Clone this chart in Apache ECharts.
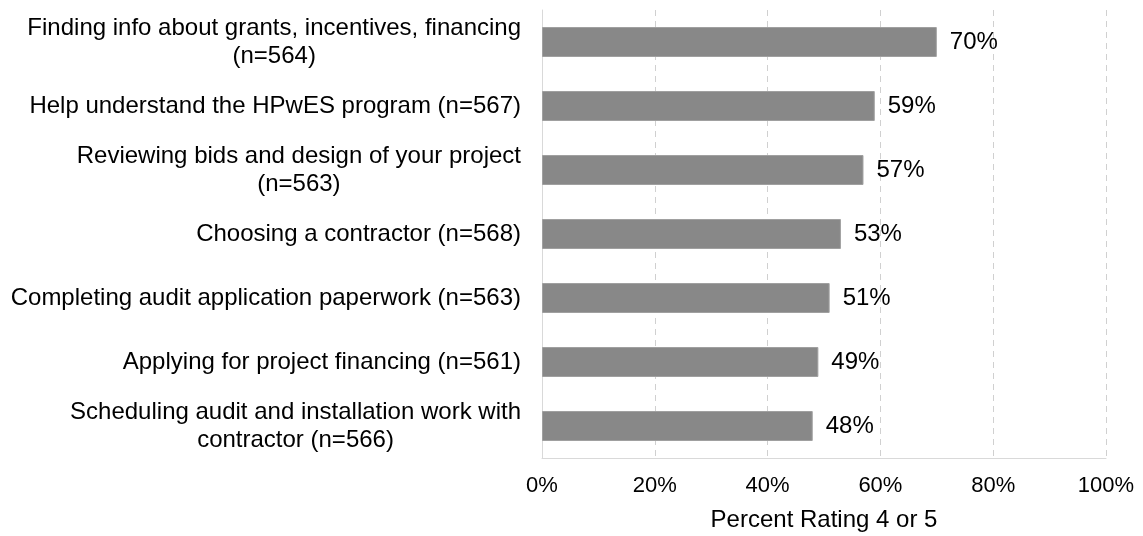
<!DOCTYPE html>
<html>
<head>
<meta charset="utf-8">
<script src="https://cdn.jsdelivr.net/npm/echarts@6/dist/echarts.min.js"></script>
<style>
  html, body { margin: 0; padding: 0; background: #fff; }
  #main { width: 1143px; height: 536px; }
</style>
</head>
<body>
<div id="main"></div>
<script>
// categories, top to bottom
var categories = [
  'Finding info about grants, incentives, financing\n(n=564)',
  'Help understand the HPwES program (n=567)',
  'Reviewing bids and design of your project\n(n=563)',
  'Choosing a contractor (n=568)',
  'Completing audit application paperwork (n=563)',
  'Applying for project financing (n=561)',
  'Scheduling audit and installation work with\ncontractor (n=566)'
];
var values = [70, 59, 57, 53, 51, 49, 48];
var xTicks = [0, 20, 40, 60, 80, 100];
var axisTitle = 'Percent Rating 4 or 5';

var font = 'Liberation Sans, Arial, sans-serif';

var option = {
  animation: false,
  grid: { left: 542, right: 37, top: 10, bottom: 78, outerBoundsMode: 'none', containLabel: false },
  xAxis: {
    type: 'value',
    min: 0,
    max: 100,
    interval: 20,
    name: axisTitle,
    nameLocation: 'middle',
    nameGap: 50,
    nameTextStyle: { fontFamily: font, fontSize: 24, color: '#000' },
    axisLine: { show: true, lineStyle: { color: '#d9d9d9', width: 1 } },
    axisTick: { show: false },
    axisLabel: {
      fontFamily: font, fontSize: 22, color: '#000', margin: 17,
      formatter: function (v) { return xTicks.indexOf(v) >= 0 ? v + '%' : ''; }
    },
    splitLine: { show: true, lineStyle: { color: '#d0d0d0', type: [6, 5], width: 1 } }
  },
  yAxis: {
    type: 'category',
    inverse: true,
    data: categories,
    axisLine: { show: true, lineStyle: { color: '#d9d9d9' } },
    axisTick: { show: false },
    axisLabel: {
      margin: 21,
      formatter: function (v) {
        return v.split('\n').map(function (s) { return '{c|' + s + '}'; }).join('\n');
      },
      rich: {
        c: { fontFamily: font, fontSize: 24, color: '#000', align: 'center', lineHeight: 28 }
      }
    }
  },
  series: [{
    type: 'bar',
    data: values,
    barWidth: 30,
    itemStyle: { color: '#888888', borderColor: '#a0a0a0', borderWidth: 1 },
    label: {
      show: true,
      position: 'right',
      distance: 13,
      fontFamily: font,
      fontSize: 24,
      color: '#000',
      formatter: '{c}%'
    }
  }]
};

var myChart = echarts.init(document.getElementById('main'));
myChart.setOption(option);
</script>
</body>
</html>
